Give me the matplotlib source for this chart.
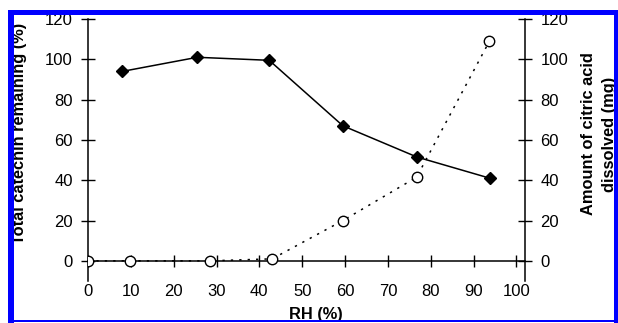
import matplotlib
matplotlib.use("Agg")
import matplotlib.pyplot as plt
from matplotlib.patches import Rectangle

plt.rcParams['font.family'] = ['Liberation Sans', 'DejaVu Sans']

# Data
rh_catechin = [8, 25.5, 42.3, 59.5, 76.8, 93.8]
catechin_remaining = [94, 101, 99.5, 67, 51.5, 41]
rh_citric = [0, 9.8, 28.5, 43, 59.5, 76.7, 93.7]
citric_dissolved = [0, 0, 0, 1, 20, 41.5, 109]

x_ticks = [0, 10, 20, 30, 40, 50, 60, 70, 80, 90, 100]
y_ticks = [0, 20, 40, 60, 80, 100, 120]

W, H = 618, 323
fig = plt.figure(figsize=(W / 100, H / 100), dpi=100)

def fx(px):
    return px / W

def fy(py):
    return 1 - py / H

ax_l, ax_r, ax_t, ax_b = 88, 525, 19, 281
ax = fig.add_axes([fx(ax_l), fy(ax_b), fx(ax_r) - fx(ax_l), fy(ax_t) - fy(ax_b)])
ax2 = ax.twinx()

ax.set_xlim(0, 102)
ax.set_ylim(-10, 120)
ax2.set_ylim(-10, 120)

ax.plot(rh_catechin, catechin_remaining, color='black', lw=1.1, marker='D',
        markersize=6.3, markerfacecolor='black', markeredgecolor='black', zorder=3)
ax2.plot(rh_citric, citric_dissolved, color='black', lw=1.1, linestyle=(0, (1.5, 4)),
         marker='o', markersize=7.5, markerfacecolor='white',
         markeredgecolor='black', markeredgewidth=1.0, zorder=3)

for a in (ax, ax2):
    a.spines['top'].set_visible(False)
    a.patch.set_visible(False)

ax.spines['right'].set_visible(False)
ax2.spines['left'].set_visible(False)
ax2.spines['bottom'].set_visible(False)
ax.spines['bottom'].set_position(('data', 0))
for s in ('left', 'bottom'):
    ax.spines[s].set_linewidth(1.1)
ax2.spines['right'].set_linewidth(1.1)

ax.set_xticks(x_ticks)
ax.set_xticklabels([str(v) for v in x_ticks])
ax.set_yticks(y_ticks)
ax.set_yticklabels([str(v) for v in y_ticks])
ax2.set_yticks(y_ticks)
ax2.set_yticklabels([str(v) for v in y_ticks])

ax.tick_params(axis='x', direction='inout', length=8, width=1.0, pad=13, labelsize=12)
ax.tick_params(axis='y', direction='inout', length=10, width=1.0, pad=6, labelsize=12)
ax2.tick_params(axis='y', direction='inout', length=10, width=1.0, pad=6, labelsize=12)

fig.text(fx(20), fy(133), 'Total catechin remaining (%)', rotation=90, ha='center',
         va='center', fontsize=11.8, fontweight='bold')
fig.text(fx(599), fy(134), 'Amount of citric acid\ndissolved (mg)', rotation=90,
         ha='center', va='center', fontsize=11.8, fontweight='bold', linespacing=1.45)
fig.text(fx(316), fy(315), 'RH (%)', ha='center', va='center', fontsize=11.8,
         fontweight='bold')

blue = '#0000ff'
def bar(x0, y0, x1, y1):
    fig.patches.append(Rectangle((fx(x0), fy(y1)), fx(x1) - fx(x0), fy(y0) - fy(y1),
                                 transform=fig.transFigure, facecolor=blue,
                                 edgecolor='none', zorder=10))
bar(8, 10, 618, 15)     # top
bar(8, 10, 14, 323)     # left
bar(614, 10, 618, 323)  # right
bar(8, 320, 618, 322)   # bottom

fig.savefig('out.png', dpi=100)
